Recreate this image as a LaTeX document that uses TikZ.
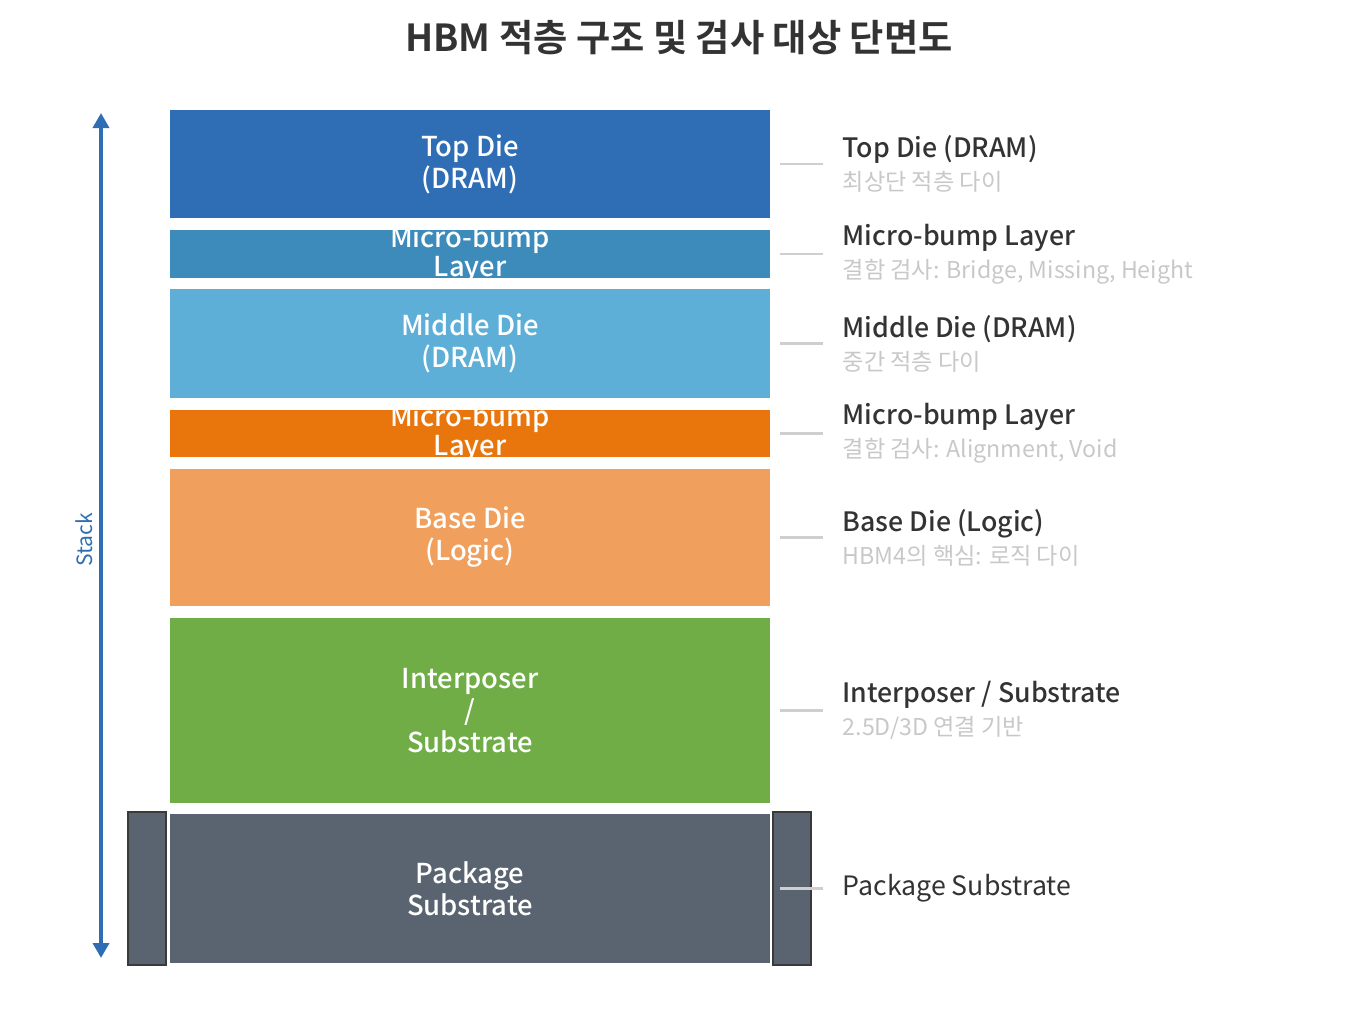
\documentclass[tikz,border=0pt]{standalone}
\usepackage{fontspec}
\setmainfont{Noto Sans CJK KR}[BoldFont={Noto Sans CJK KR Medium}]
\newfontfamily\titlefont{Noto Sans CJK KR Bold}
\usepackage{xcolor}
\usetikzlibrary{arrows.meta, positioning, calc}
\definecolor{topc}{HTML}{2F6EB5}
\definecolor{bumpa}{HTML}{3D8BBB}
\definecolor{midc}{HTML}{5EAFD8}
\definecolor{bumpb}{HTML}{E8760C}
\definecolor{basec}{HTML}{F0A05C}
\definecolor{interc}{HTML}{70AD47}
\definecolor{pkgc}{HTML}{5A6470}
\definecolor{framec}{HTML}{3A3A3A}
\definecolor{leadc}{HTML}{CFCFCF}
\definecolor{subc}{HTML}{C8C8C8}
\definecolor{textc}{HTML}{333333}
\tikzset{
    layer/.style={rectangle, draw=white, line width=0.6pt, minimum width=60.2mm, inner sep=0pt},
    boxtext/.style={text=white, align=center, font=\fontsize{7.8}{9.1}\selectfont\bfseries},
    bumptext/.style={boxtext, font=\fontsize{7.8}{8.3}\selectfont\bfseries},
    sideblock/.style={rectangle, draw=framec, line width=0.7pt, fill=pkgc, minimum width=3.8mm, minimum height=15.3mm, inner sep=0pt},
    desc/.style={anchor=west, align=left, inner sep=0pt, text=textc, font=\fontsize{7.6}{9.4}\selectfont},
    leader/.style={draw=leadc, line width=0.6pt},
    stackarrow/.style={{Triangle[length=1.5mm,width=1.6mm]}-{Triangle[length=1.5mm,width=1.6mm]}, draw=topc, line width=1pt},
    titletext/.style={text=textc, font=\fontsize{10.6}{12}\selectfont\titlefont}
}
\newcommand{\subline}[1]{{\color{subc}\fontsize{6.6}{8}\selectfont #1}}

\begin{document}
\begin{tikzpicture}[x=0.1mm, y=-0.1mm]
    \useasboundingbox (0,0) rectangle (1357,1023);

    % Title
    \node[titletext] (title) at (679,38) {HBM 적층 구조 및 검사 대상 단면도};

    % Package side frame
    \node[sideblock] (pkgl) at (147,888.5) {};
    \node[sideblock] (pkgr) at (792,888.5) {};

    % Stack layers
    \node[layer, fill=topc, minimum height=11mm, label={[boxtext]center:Top Die\\(DRAM)}] (top) at (470,164) {};
    \node[layer, fill=bumpa, minimum height=5mm, label={[bumptext]center:Micro-bump\\Layer}] (bumpone) at (470,254) {};
    \node[layer, fill=midc, minimum height=11.1mm, label={[boxtext]center:Middle Die\\(DRAM)}] (mid) at (470,343.5) {};
    \node[layer, fill=bumpb, minimum height=4.9mm, label={[bumptext]center:Micro-bump\\Layer}] (bumptwo) at (470,433.5) {};
    \node[layer, fill=basec, minimum height=13.9mm, label={[boxtext]center:Base Die\\(Logic)}] (base) at (470,537.5) {};
    \node[layer, fill=interc, minimum height=18.7mm, label={[boxtext]center:Interposer\\/\\Substrate}] (inter) at (470,710.5) {};
    \node[layer, fill=pkgc, minimum height=15.1mm, label={[boxtext]center:Package\\Substrate}] (pkg) at (470,888.5) {};

    % Stack direction
    \coordinate (stackbot) at (101,958);
    \coordinate (stacktop) at (101,113);
    \draw[stackarrow] (stackbot) -- (stacktop);
    \node[rotate=90, text=topc, font=\fontsize{6}{7}\selectfont] (stacklbl) at (84,540) {Stack};

    % Descriptions
    \node[desc] (toplbl) at (842,164) {\textbf{Top Die (DRAM)}\\\subline{최상단 적층 다이}};
    \node[desc] (bumponelbl) at (842,254) {\textbf{Micro-bump Layer}\\\subline{결함 검사: Bridge, Missing, Height}};
    \node[desc] (midlbl) at (842,343.5) {\textbf{Middle Die (DRAM)}\\\subline{중간 적층 다이}};
    \node[desc] (bumptwolbl) at (842,433.5) {\textbf{Micro-bump Layer}\\\subline{결함 검사: Alignment, Void}};
    \node[desc] (baselbl) at (842,537.5) {\textbf{Base Die (Logic)}\\\subline{HBM4의 핵심: 로직 다이}};
    \node[desc] (interlbl) at (842,710.5) {\textbf{Interposer / Substrate}\\\subline{2.5D/3D 연결 기반}};
    \node[desc] (pkglbl) at (842,888.5) {Package Substrate};

    % Leader lines
    \draw[leader] ([xshift=0.8mm]top.east) -- ([xshift=-1.9mm]toplbl.west);
    \draw[leader] ([xshift=0.8mm]bumpone.east) -- ([xshift=-1.9mm]bumponelbl.west);
    \draw[leader] ([xshift=0.8mm]mid.east) -- ([xshift=-1.9mm]midlbl.west);
    \draw[leader] ([xshift=0.8mm]bumptwo.east) -- ([xshift=-1.9mm]bumptwolbl.west);
    \draw[leader] ([xshift=0.8mm]base.east) -- ([xshift=-1.9mm]baselbl.west);
    \draw[leader] ([xshift=0.8mm]inter.east) -- ([xshift=-1.9mm]interlbl.west);
    \draw[leader] ([xshift=0.8mm]pkg.east) -- ([xshift=-1.9mm]pkglbl.west);
\end{tikzpicture}
\end{document}
